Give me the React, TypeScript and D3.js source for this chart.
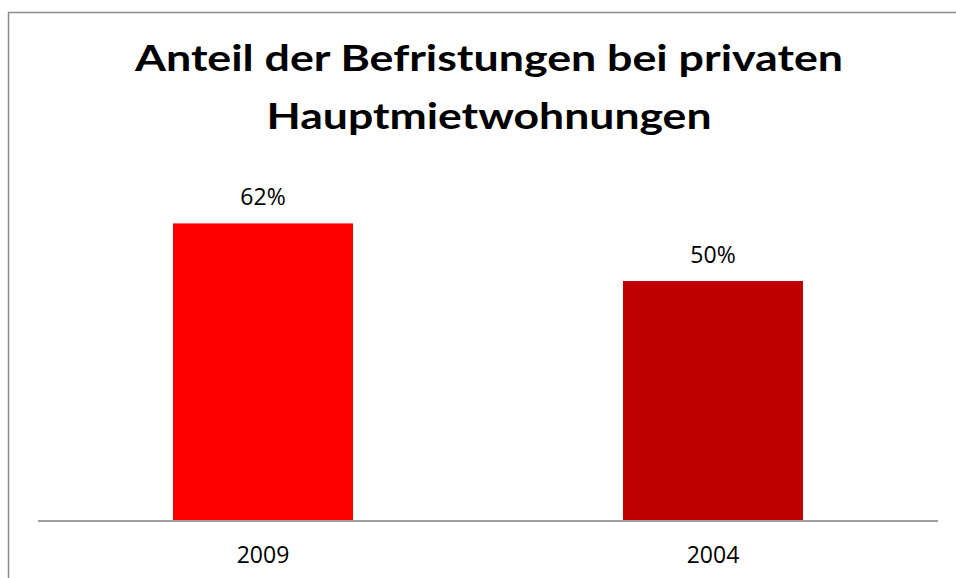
import React from "react";
import * as d3 from "d3";

const categories = ["2009", "2004"];
const values = [62, 50];
const colors = ["#FF0000", "#C00000"];
const valueLabels = ["62%", "50%"];
const titleLines = ["Anteil der Befristungen bei privaten", "Hauptmietwohnungen"];

const W = 956;
const H = 578;
const plotLeft = 38;
const plotRight = 938;
const baseY = 521;

export default function App() {
  const x = d3
    .scaleBand<string>()
    .domain(categories)
    .range([plotLeft, plotRight])
    .paddingInner(0.6)
    .paddingOuter(0.3);
  const y = d3.scaleLinear().domain([0, 70]).range([baseY, baseY - 70 * 4.8]);

  return (
    <svg
      width={W}
      height={H}
      style={{ position: "absolute", left: 0, top: 0, background: "#fff" }}
    >
      <rect x={0} y={0} width={W} height={H} fill="#fff" />
      {/* chart border */}
      <rect
        x={8.5}
        y={12.5}
        width={962}
        height={600}
        fill="none"
        stroke="#8a8a8a"
        strokeWidth={1.5}
      />
      {/* title */}
      <text
        x={489}
        y={71}
        textAnchor="middle"
        fontFamily="Lato, sans-serif"
        fontWeight={700}
        fontSize={37}
        fill="#000"
        textLength={708}
        lengthAdjust="spacingAndGlyphs"
      >
        {titleLines[0]}
      </text>
      <text
        x={489}
        y={129}
        textAnchor="middle"
        fontFamily="Lato, sans-serif"
        fontWeight={700}
        fontSize={37}
        fill="#000"
        textLength={445}
        lengthAdjust="spacingAndGlyphs"
      >
        {titleLines[1]}
      </text>
      {/* bars */}
      {categories.map((c, i) => (
        <rect
          key={c}
          x={x(c)}
          y={y(values[i])}
          width={x.bandwidth()}
          height={baseY - y(values[i])}
          fill={colors[i]}
        />
      ))}
      {/* value labels */}
      {categories.map((c, i) => (
        <text
          key={"v" + c}
          x={(x(c) as number) + x.bandwidth() / 2}
          y={y(values[i]) - 18}
          textAnchor="middle"
          fontFamily="'Open Sans', sans-serif"
          fontSize={23}
          fill="#000"
        >
          {valueLabels[i]}
        </text>
      ))}
      {/* axis line */}
      <line
        x1={plotLeft}
        x2={plotRight}
        y1={baseY}
        y2={baseY}
        stroke="#a0a0a0"
        strokeWidth={2}
      />
      {/* category labels */}
      {categories.map((c) => (
        <text
          key={"c" + c}
          x={(x(c) as number) + x.bandwidth() / 2}
          y={563}
          textAnchor="middle"
          fontFamily="'Open Sans', sans-serif"
          fontSize={23}
          fill="#000"
        >
          {c}
        </text>
      ))}
    </svg>
  );
}
